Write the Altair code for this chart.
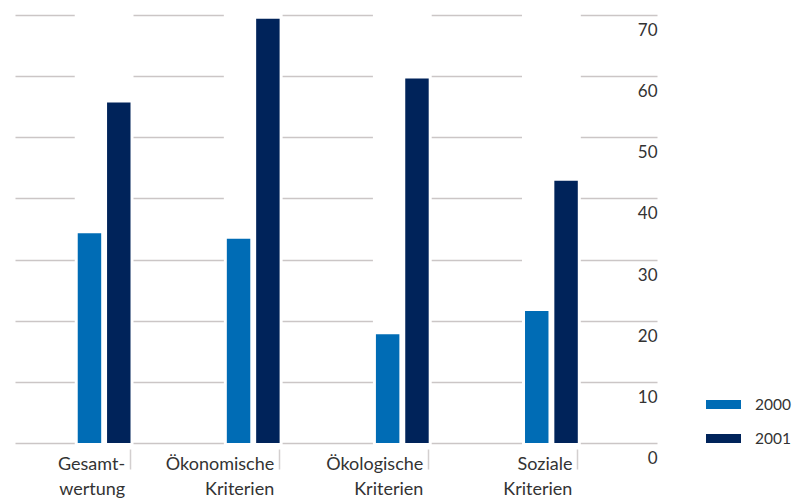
import altair as alt
import pandas as pd

# ---- data ----
categories = ["Gesamt-|wertung", "Ökonomische|Kriterien", "Ökologische|Kriterien", "Soziale|Kriterien"]
years = ["2000", "2001"]
values_2000 = [34.3, 33.4, 17.8, 21.6]
values_2001 = [55.7, 69.4, 59.6, 42.9]
y_ticks = [0, 10, 20, 30, 40, 50, 60, 70]
y_max = 70
colors = ["#006cb5", "#00235a"]

rows = []
for c, a, b in zip(categories, values_2000, values_2001):
    rows.append({"cat": c, "year": years[0], "value": a})
    rows.append({"cat": c, "year": years[1], "value": b})
df = pd.DataFrame(rows)
cover_df = pd.DataFrame({"cat": categories, "top": [y_max] * len(categories)})

FONT = "Lato"
TXT = "#333333"

x_scale = alt.Scale(domain=categories, paddingInner=0.646, paddingOuter=0.476, align=0.442)
y_scale = alt.Scale(domain=[0, y_max], nice=False)

x_axis = alt.Axis(
    title=None, orient="bottom", bandPosition=1, domain=False, grid=False,
    ticks=True, tickSize=20, tickColor="#d3cfcf", tickWidth=1.5, offset=6,
    labelAlign="right", labelBaseline="top", labelPadding=-14, labelOffset=21,
    labelExpr="split(datum.label, '|')", labelLineHeight=25, labelAngle=0,
    labelFontSize=18, labelFont=FONT, labelColor=TXT, labelOverlap=False,
)
y_axis = alt.Axis(
    title=None, orient="right", values=y_ticks, domain=False, ticks=False, tickSize=0,
    labelPadding=0, labelAlign="right", labelBaseline="middle", labelOffset=15.5,
    labelFontSize=17, labelFont=FONT, labelColor=TXT,
    grid=True, gridColor="#cbc6c6", gridWidth=1.6,
)

cover = alt.Chart(cover_df).mark_bar(color="white", stroke="white", strokeWidth=6).encode(
    x=alt.X("cat:N", scale=x_scale, sort=categories, axis=x_axis),
    y=alt.Y("top:Q", scale=y_scale, axis=y_axis),
    y2=alt.datum(0),
)

bars = alt.Chart(df).mark_bar().encode(
    x=alt.X("cat:N", scale=x_scale, sort=categories, axis=x_axis),
    xOffset=alt.XOffset("year:N", scale=alt.Scale(domain=years, paddingInner=0.2, paddingOuter=0)),
    y=alt.Y("value:Q", scale=y_scale, axis=y_axis, stack=None),
    color=alt.Color(
        "year:N",
        scale=alt.Scale(domain=years, range=colors),
        legend=alt.Legend(
            orient="none", legendX=691, legendY=372, title=None,
            symbolType="M-1,-0.257H1V0.257H-1Z", symbolSize=1225, symbolStrokeWidth=0,
            symbolOpacity=1, labelOffset=14, rowPadding=8,
            labelFontSize=15.5, labelFont=FONT, labelColor=TXT,
        ),
    ),
)

chart = alt.layer(cover, bars).properties(
    width=642, height=428,
    autosize=alt.AutoSizeParams(type="none"),
    padding={"left": 15, "top": 15, "right": 138, "bottom": 55},
    background="white",
).configure_view(stroke=None)

chart.save("out.html", embed_options={"renderer": "svg", "actions": False})
